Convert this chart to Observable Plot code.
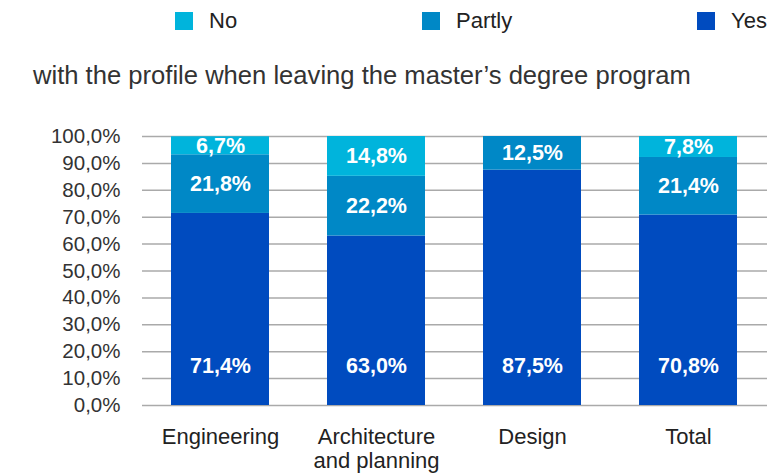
<!DOCTYPE html>
<html>
<head>
<meta charset="utf-8">
<script src="https://cdn.jsdelivr.net/npm/d3@7"></script>
<script src="https://cdn.jsdelivr.net/npm/@observablehq/plot@0.6"></script>
<style>
  html, body { margin: 0; padding: 0; background: #fff; overflow: hidden; }
  body { width: 767px; height: 474px; position: relative; font-family: "Liberation Sans", Arial, sans-serif; }
  #legend { position: absolute; left: 0; top: 0; width: 767px; height: 40px; }
  .item { position: absolute; top: 6px; height: 30px; display: flex; align-items: center; font-size: 22px; color: #222; white-space: nowrap; }
  .sw { width: 18px; height: 18px; margin-right: 16px; }
  #subtitle { position: absolute; left: 33px; top: 60px; font-size: 25.6px; color: #333; white-space: nowrap; line-height: 30px; }
  #chart { position: absolute; left: 0; top: 100px; }
</style>
</head>
<body>
<div id="legend"></div>
<div id="subtitle">with the profile when leaving the master’s degree program</div>
<div id="chart"></div>
<script>
const categories = ["Engineering", "Architecture\nand planning", "Design", "Total"];
const series = ["Yes", "Partly", "No"];
const yesValues = [71.4, 63.0, 87.5, 70.8];
const partlyValues = [21.8, 22.2, 12.5, 21.4];
const noValues = [6.7, 14.8, 0, 7.8];
const yTicks = [0, 10, 20, 30, 40, 50, 60, 70, 80, 90, 100];
const colors = ["#004bbf", "#0088c6", "#00b4dc"];
const legendOrder = ["No", "Partly", "Yes"];
const legendX = [175, 422, 697];

const valuesBySeries = {Yes: yesValues, Partly: partlyValues, No: noValues};
const data = [];
categories.forEach((c, i) => {
  series.forEach(s => data.push({category: c, series: s, value: valuesBySeries[s][i]}));
});
const fmt = v => v.toFixed(1).replace(".", ",") + "%";

// legend
const legend = document.getElementById("legend");
legendOrder.forEach((s, i) => {
  const el = document.createElement("div");
  el.className = "item";
  el.style.left = legendX[i] + "px";
  el.innerHTML = `<span class="sw" style="background:${colors[series.indexOf(s)]}"></span><span>${s}</span>`;
  legend.appendChild(el);
});

const chart = Plot.plot({
  width: 767,
  height: 374,
  marginLeft: 142,
  marginRight: 0,
  marginTop: 36,
  marginBottom: 69,
  style: {fontFamily: "Liberation Sans, Arial, sans-serif", background: "transparent"},
  x: {domain: categories, paddingInner: 0.37, paddingOuter: 0.185, label: null},
  y: {domain: [0, 100], label: null},
  color: {domain: series, range: colors},
  marks: [
    Plot.ruleY(yTicks, {stroke: "#aaaaaa", strokeWidth: 1.5}),
    Plot.barY(data, {x: "category", y: "value", fill: "series", order: null}),
    Plot.text(data, Plot.stackY({
      x: "category", y: "value", order: null,
      text: d => (d.series !== "Yes" && d.value > 0) ? fmt(d.value) : null,
      fill: "white", fontWeight: "bold", fontSize: 21.5
    })),
    Plot.text(data.filter(d => d.series === "Yes"), {
      x: "category", y: 0, dy: -39, text: d => fmt(d.value),
      fill: "white", fontWeight: "bold", fontSize: 21.5
    }),
    Plot.axisY({ticks: yTicks, tickFormat: d => d.toFixed(1).replace(".", ",") + "%", tickSize: 0, tickPadding: 22, fontSize: 20.5, color: "#333", label: null}),
    Plot.axisX({tickSize: 0, tickPadding: 21, fontSize: 22, lineHeight: 1.1, color: "#222", label: null})
  ]
});
document.getElementById("chart").appendChild(chart);
</script>
</body>
</html>
